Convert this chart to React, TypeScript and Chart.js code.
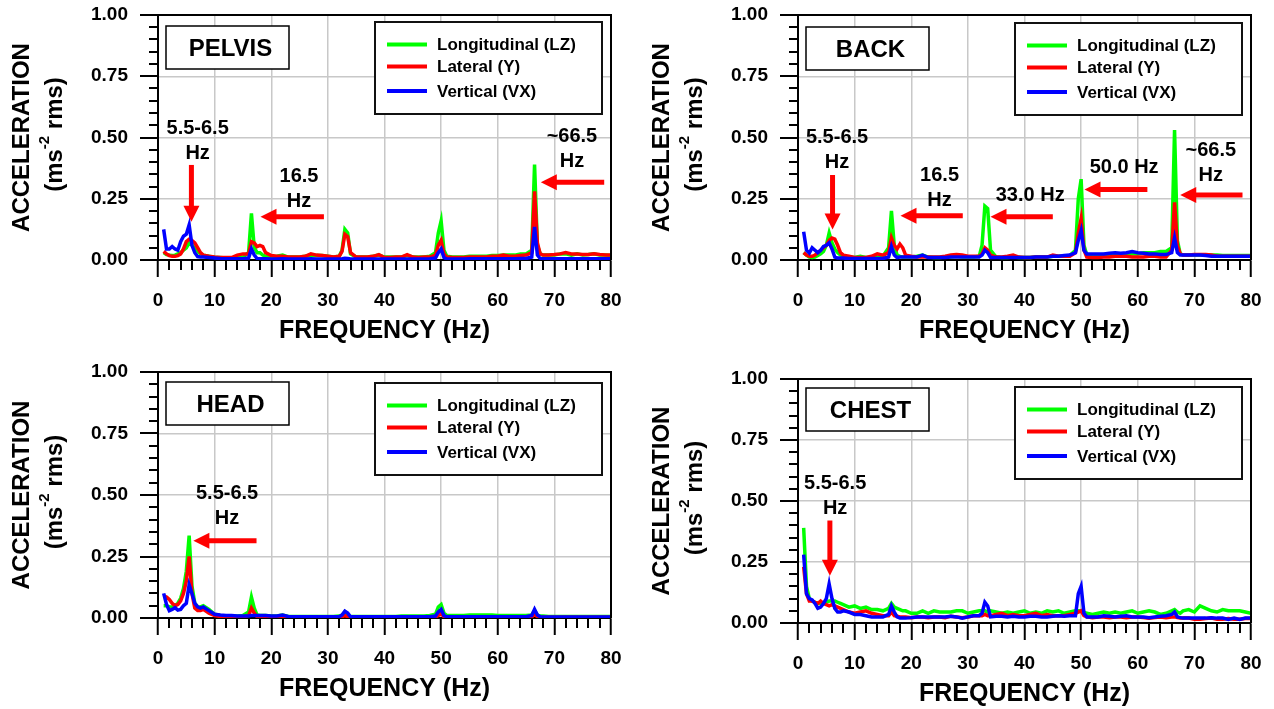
import React, { useEffect, useRef } from 'react';
import { Chart, registerables } from 'chart.js';

Chart.register(...registerables);

// ---------------- DATA ----------------
const FREQ = [
  1, 1.5, 2, 2.5, 3, 3.5, 4, 4.5, 5, 5.5, 6, 6.5, 7, 7.5, 8,
  9, 10, 11, 12, 13, 14, 15,
  16, 16.5, 17, 17.5, 18, 18.5,
  19, 20, 21, 22, 23, 24, 25, 26, 27, 28, 29, 30, 31, 32,
  32.5, 33, 33.5,
  34, 35, 36, 37, 38, 39, 40, 41, 42, 43, 44, 45, 46, 47, 48, 49,
  49.5, 50, 50.5,
  51, 52, 53, 54, 55, 56, 57, 58, 59, 60, 61, 62, 63, 64, 65, 66,
  66.5, 67, 67.5,
  68, 69, 70, 71, 72, 73, 74, 75, 76, 77, 78, 79, 80,
];

const SERIES_LABELS = ['Longitudinal (LZ)', 'Lateral (Y)', 'Vertical (VX)'];
const SERIES_COLORS = ['#00ff00', '#ff0000', '#0000ff'];

const X_MIN = 0;
const X_MAX = 80;
const X_STEP = 10;
const X_MINOR = 2;
const Y_MIN = 0;
const Y_MAX = 1;
const Y_STEP = 0.25;
const Y_MINOR = 0.05;

const X_TITLE = 'FREQUENCY (Hz)';
const Y_TITLE = 'ACCELERATION';
const Y_UNIT = ['(ms', '-2', ' rms)'];

const PELVIS_LZ = [
  .03, .022, .02, .018, .02, .025, .03, .04, .05, .07, .06, .05, .035, .025, .02,
  .015, .01, .01, .008, .008, .01, .012,
  .03, .19, .05, .03, .03, .02,
  .015, .012, .015, .02, .012, .012, .012, .015, .02, .018, .018, .015, .012, .015,
  .04, .125, .11,
  .025, .012, .012, .012, .015, .02, .012, .012, .012, .012, .018, .012, .012, .012, .015, .03,
  .11, .16, .04,
  .015, .012, .012, .012, .015, .015, .015, .015, .018, .018, .02, .02, .02, .025, .025, .04,
  .39, .06, .025,
  .02, .02, .02, .025, .025, .02, .025, .02, .022, .025, .02, .02, .018,
];
const PELVIS_Y = [
  .035, .025, .018, .015, .015, .018, .025, .045, .075, .085, .08, .07, .05, .03, .02,
  .015, .012, .01, .01, .01, .02, .025,
  .025, .075, .07, .055, .06, .055,
  .03, .018, .015, .015, .012, .012, .012, .015, .025, .02, .018, .015, .012, .015,
  .035, .105, .095,
  .03, .012, .012, .012, .015, .022, .01, .01, .012, .012, .022, .012, .01, .012, .012, .02,
  .06, .08, .025,
  .012, .01, .01, .01, .012, .012, .012, .012, .015, .015, .02, .015, .015, .018, .02, .03,
  .28, .07, .025,
  .02, .02, .022, .025, .03, .025, .025, .022, .022, .025, .022, .02, .02,
];
const PELVIS_VX = [
  .125, .045, .045, .055, .045, .04, .075, .097, .105, .143, .06, .03, .014, .012, .012,
  .01, .008, .006, .005, .005, .005, .005,
  .008, .045, .02, .006, .005, .005,
  .005, .004, .004, .005, .004, .004, .004, .004, .005, .004, .004, .004, .004, .004,
  .005, .007, .006,
  .004, .004, .004, .004, .004, .004, .004, .004, .004, .004, .004, .004, .004, .004, .005, .008,
  .03, .045, .01,
  .004, .004, .004, .004, .005, .005, .005, .005, .005, .005, .005, .005, .005, .006, .006, .012,
  .135, .02, .006,
  .005, .005, .005, .005, .005, .005, .005, .005, .005, .005, .005, .005, .005,
];

const BACK_LZ = [
  .03, .02, .012, .01, .012, .018, .025, .035, .06, .11, .07, .045, .03, .02, .015,
  .012, .01, .015, .01, .01, .012, .015,
  .05, .2, .06, .02, .015, .012,
  .012, .012, .015, .02, .012, .01, .01, .012, .012, .015, .012, .012, .012, .015,
  .06, .22, .21,
  .04, .012, .01, .01, .012, .01, .01, .01, .012, .012, .012, .015, .015, .015, .018, .04,
  .25, .33, .06,
  .02, .02, .02, .022, .022, .025, .025, .025, .025, .025, .03, .03, .03, .035, .035, .05,
  .53, .08, .025,
  .02, .02, .02, .02, .02, .02, .02, .018, .018, .018, .018, .018, .018,
];
const BACK_Y = [
  .03, .02, .015, .015, .02, .03, .04, .05, .06, .08, .09, .085, .06, .03, .02,
  .015, .01, .01, .01, .015, .025, .02,
  .03, .09, .06, .045, .065, .05,
  .02, .015, .012, .012, .012, .012, .012, .015, .02, .022, .02, .015, .015, .015,
  .025, .05, .04,
  .02, .012, .012, .015, .02, .012, .01, .01, .012, .012, .012, .02, .015, .015, .015, .03,
  .11, .17, .04,
  .012, .01, .01, .012, .012, .015, .015, .015, .012, .012, .012, .015, .015, .012, .012, .04,
  .235, .06, .025,
  .02, .02, .022, .022, .022, .02, .015, .015, .015, .015, .015, .015, .015,
];
const BACK_VX = [
  .115, .04, .028, .05, .04, .03, .04, .055, .06, .07, .045, .012, .008, .008, .008,
  .006, .006, .006, .006, .006, .006, .006,
  .012, .055, .02, .01, .012, .012,
  .012, .012, .012, .02, .01, .01, .01, .01, .012, .012, .012, .012, .012, .012,
  .02, .04, .03,
  .01, .01, .01, .01, .01, .01, .01, .01, .012, .012, .012, .015, .015, .018, .02, .03,
  .08, .12, .04,
  .025, .025, .025, .025, .028, .03, .028, .03, .035, .03, .028, .025, .025, .022, .022, .03,
  .09, .03, .02,
  .02, .02, .02, .02, .018, .015, .015, .015, .015, .015, .015, .015, .015,
];

const HEAD_LZ = [
  .05, .05, .045, .045, .05, .06, .08, .12, .19, .335, .13, .06, .045, .045, .05,
  .035, .015, .01, .008, .008, .008, .01,
  .025, .085, .04, .012, .01, .01,
  .01, .008, .008, .012, .006, .006, .006, .006, .006, .006, .006, .006, .006, .008,
  .012, .025, .015,
  .006, .006, .006, .006, .006, .006, .006, .006, .006, .008, .008, .008, .008, .008, .01, .015,
  .045, .055, .02,
  .01, .01, .01, .01, .012, .012, .012, .012, .012, .01, .01, .01, .01, .01, .01, .012,
  .03, .012, .008,
  .008, .006, .006, .006, .006, .006, .006, .006, .006, .006, .006, .006, .006,
];
const HEAD_Y = [
  .09, .085, .075, .06, .05, .055, .07, .1, .15, .25, .1, .04, .03, .03, .035,
  .02, .01, .006, .005, .005, .004, .004,
  .01, .04, .02, .005, .004, .004,
  .003, .003, .003, .005, .003, .003, .003, .003, .003, .003, .003, .003, .003, .003,
  .004, .01, .005,
  .003, .003, .003, .003, .003, .003, .003, .003, .003, .003, .003, .003, .003, .003, .003, .004,
  .01, .018, .005,
  .003, .003, .003, .003, .003, .003, .003, .003, .003, .003, .003, .003, .003, .003, .003, .004,
  .015, .005, .003,
  .003, .003, .003, .003, .003, .003, .003, .003, .003, .003, .003, .003, .003,
];
const HEAD_VX = [
  .1, .055, .03, .035, .042, .032, .035, .05, .06, .135, .1, .06, .045, .04, .045,
  .03, .015, .012, .01, .01, .008, .008,
  .008, .01, .01, .01, .01, .01,
  .01, .008, .008, .012, .006, .005, .005, .005, .005, .005, .005, .005, .005, .005,
  .012, .028, .02,
  .005, .005, .005, .005, .005, .005, .005, .005, .005, .005, .005, .005, .005, .005, .005, .008,
  .025, .035, .01,
  .005, .005, .005, .005, .005, .005, .005, .005, .005, .005, .005, .005, .005, .005, .005, .01,
  .035, .012, .005,
  .004, .004, .004, .004, .004, .004, .004, .004, .004, .004, .004, .004, .004,
];

const CHEST_LZ = [
  .39, .15, .1, .09, .085, .08, .08, .08, .085, .09, .09, .09, .085, .08, .075,
  .065, .07, .06, .065, .055, .055, .05,
  .06, .08, .065, .06, .055, .05,
  .05, .04, .04, .05, .04, .05, .045, .045, .045, .05, .05, .04, .045, .05,
  .05, .05, .045,
  .05, .045, .04, .045, .04, .045, .05, .04, .045, .04, .05, .045, .05, .04, .045, .05,
  .05, .05, .045,
  .04, .035, .04, .045, .04, .045, .04, .045, .05, .04, .045, .05, .045, .035, .04, .05,
  .055, .045, .04,
  .05, .055, .045, .07, .06, .05, .045, .055, .05, .05, .05, .045, .04,
];
const CHEST_Y = [
  .23, .12, .09, .09, .085, .08, .09, .08, .075, .07, .075, .07, .065, .06, .055,
  .045, .04, .045, .05, .04, .035, .03,
  .03, .045, .03, .028, .025, .025,
  .025, .022, .025, .025, .022, .025, .025, .022, .028, .025, .022, .025, .03, .03,
  .03, .035, .03,
  .03, .035, .04, .03, .035, .03, .03, .035, .04, .03, .035, .03, .03, .03, .035, .04,
  .045, .05, .03,
  .025, .022, .025, .025, .022, .025, .025, .022, .025, .025, .022, .02, .022, .025, .022, .025,
  .025, .022, .02,
  .02, .02, .015, .015, .018, .02, .015, .015, .018, .015, .015, .018, .018,
];
const CHEST_VX = [
  .28, .12, .1, .095, .08, .06, .065, .08, .1, .16, .1, .06, .045, .045, .05,
  .045, .035, .035, .03, .025, .025, .025,
  .035, .07, .045, .025, .02, .02,
  .02, .022, .025, .025, .025, .025, .025, .025, .028, .025, .02, .025, .03, .03,
  .04, .085, .07,
  .025, .028, .028, .025, .028, .025, .025, .028, .028, .025, .025, .028, .03, .028, .03, .03,
  .12, .15, .04,
  .025, .025, .025, .03, .028, .025, .028, .03, .025, .025, .025, .022, .025, .028, .03, .035,
  .045, .025, .022,
  .02, .02, .02, .02, .02, .022, .02, .02, .015, .02, .015, .02, .02,
];

// annotations in data units (Hz, acceleration)
const PELVIS_NOTES = [
  { lines: ['5.5-6.5', 'Hz'], x: 7.0, y: 0.538 },
  { lines: ['16.5', 'Hz'], x: 24.9, y: 0.34 },
  { lines: ['~66.5', 'Hz'], x: 73.1, y: 0.503 },
];
const PELVIS_ARROWS = [
  { x1: 5.9, y1: 0.388, x2: 5.9, y2: 0.156 },
  { x1: 29.3, y1: 0.177, x2: 18.1, y2: 0.177 },
  { x1: 78.8, y1: 0.317, x2: 67.6, y2: 0.317 },
];
const BACK_NOTES = [
  { lines: ['5.5-6.5', 'Hz'], x: 6.9, y: 0.5 },
  { lines: ['16.5', 'Hz'], x: 25.0, y: 0.347 },
  { lines: ['33.0 Hz'], x: 41.0, y: 0.265 },
  { lines: ['50.0 Hz'], x: 57.6, y: 0.377 },
  { lines: ['~66.5', 'Hz'], x: 72.9, y: 0.449 },
];
const BACK_ARROWS = [
  { x1: 6.1, y1: 0.347, x2: 6.1, y2: 0.125 },
  { x1: 29.1, y1: 0.181, x2: 18.1, y2: 0.181 },
  { x1: 45.0, y1: 0.177, x2: 34.0, y2: 0.177 },
  { x1: 61.7, y1: 0.288, x2: 50.6, y2: 0.288 },
  { x1: 78.5, y1: 0.265, x2: 67.5, y2: 0.265 },
];
const HEAD_NOTES = [{ lines: ['5.5-6.5', 'Hz'], x: 12.2, y: 0.507 }];
const HEAD_ARROWS = [{ x1: 17.4, y1: 0.314, x2: 6.25, y2: 0.314 }];
const CHEST_NOTES = [{ lines: ['5.5-6.5', 'Hz'], x: 6.56, y: 0.573 }];
const CHEST_ARROWS = [{ x1: 5.63, y1: 0.42, x2: 5.63, y2: 0.194 }];

// ---------------- LAYOUT ----------------
const FONT = 'Arial, "Liberation Sans", Helvetica, sans-serif';
const ARROW_COLOR = '#ff0000';
const GRID_COLOR = '#c8c8c8';

const PANELS = [
  {
    title: 'PELVIS', series: [PELVIS_LZ, PELVIS_Y, PELVIS_VX], notes: PELVIS_NOTES, arrows: PELVIS_ARROWS,
    canvas: { left: 0, top: 0, width: 640, height: 355 },
    area: { left: 158, top: 15, right: 611, bottom: 260 },
    titleDy: 11, legendDy: 7,
  },
  {
    title: 'BACK', series: [BACK_LZ, BACK_Y, BACK_VX], notes: BACK_NOTES, arrows: BACK_ARROWS,
    canvas: { left: 640, top: 0, width: 634, height: 355 },
    area: { left: 798, top: 15, right: 1251, bottom: 260 },
    titleDy: 12, legendDy: 8,
  },
  {
    title: 'HEAD', series: [HEAD_LZ, HEAD_Y, HEAD_VX], notes: HEAD_NOTES, arrows: HEAD_ARROWS,
    canvas: { left: 0, top: 355, width: 640, height: 354 },
    area: { left: 158, top: 372, right: 611, bottom: 618 },
    titleDy: 10, legendDy: 11,
  },
  {
    title: 'CHEST', series: [CHEST_LZ, CHEST_Y, CHEST_VX], notes: CHEST_NOTES, arrows: CHEST_ARROWS,
    canvas: { left: 640, top: 355, width: 634, height: 354 },
    area: { left: 798, top: 379, right: 1251, bottom: 623 },
    titleDy: 9, legendDy: 8,
  },
];

function drawArrow(ctx: CanvasRenderingContext2D, x1: number, y1: number, x2: number, y2: number) {
  const dx = x2 - x1;
  const dy = y2 - y1;
  const len = Math.hypot(dx, dy);
  const ux = dx / len;
  const uy = dy / len;
  const hl = 16;
  const hw = 8;
  const bx = x2 - ux * hl;
  const by = y2 - uy * hl;
  ctx.strokeStyle = ARROW_COLOR;
  ctx.lineWidth = 5;
  ctx.lineCap = 'butt';
  ctx.beginPath();
  ctx.moveTo(x1, y1);
  ctx.lineTo(bx + ux, by + uy);
  ctx.stroke();
  ctx.fillStyle = ARROW_COLOR;
  ctx.beginPath();
  ctx.moveTo(x2, y2);
  ctx.lineTo(bx - uy * hw, by + ux * hw);
  ctx.lineTo(bx + uy * hw, by - ux * hw);
  ctx.closePath();
  ctx.fill();
}

function makeDecor(p: any) {
  return {
    id: 'decor' + p.title,
    afterDatasetsDraw(chart: any) {
      const ctx: CanvasRenderingContext2D = chart.ctx;
      const xs = chart.scales.x;
      const ys = chart.scales.y;
      const a = chart.chartArea;
      ctx.save();

      // frame top + right
      ctx.strokeStyle = '#000';
      ctx.lineWidth = 2;
      ctx.beginPath();
      ctx.moveTo(a.left, a.top);
      ctx.lineTo(a.right, a.top);
      ctx.lineTo(a.right, a.bottom);
      ctx.stroke();

      // tick marks (major on y drawn here, minor on both)
      ctx.lineWidth = 2;
      ctx.beginPath();
      for (let v = X_MIN; v <= X_MAX + 1e-9; v += X_MINOR) {
        if (Math.abs(v / X_STEP - Math.round(v / X_STEP)) < 1e-6) continue;
        const px = Math.round(xs.getPixelForValue(v));
        ctx.moveTo(px, a.bottom);
        ctx.lineTo(px, a.bottom + 10);
      }
      for (let v = Y_MIN; v <= Y_MAX + 1e-9; v += Y_MINOR) {
        const major = Math.abs(v / Y_STEP - Math.round(v / Y_STEP)) < 1e-6;
        const py = Math.round(ys.getPixelForValue(v));
        ctx.moveTo(a.left - (major ? 18 : 9), py);
        ctx.lineTo(a.left, py);
      }
      ctx.stroke();

      // title box
      const tbx = a.left + 8;
      const tby = a.top + p.titleDy;
      ctx.fillStyle = '#fff';
      ctx.fillRect(tbx, tby, 123, 43);
      ctx.strokeStyle = '#000';
      ctx.lineWidth = 1.5;
      ctx.strokeRect(tbx, tby, 123, 43);
      ctx.fillStyle = '#000';
      ctx.font = `bold 24px ${FONT}`;
      ctx.textAlign = 'center';
      ctx.textBaseline = 'alphabetic';
      ctx.fillText(p.title, tbx + 61.5 + 3, tby + 21.5 + 8.5);

      // legend box
      const lbx = a.right - 236;
      const lby = a.top + p.legendDy;
      ctx.fillStyle = '#fff';
      ctx.fillRect(lbx, lby, 227, 92);
      ctx.strokeStyle = '#111';
      ctx.lineWidth = 2;
      ctx.strokeRect(lbx, lby, 227, 92);
      const rows = [22.5, 44.5, 69];
      ctx.font = `bold 17px ${FONT}`;
      ctx.textAlign = 'left';
      ctx.textBaseline = 'middle';
      chart.data.datasets.forEach((ds: any, i: number) => {
        const ry = lby + rows[i];
        ctx.strokeStyle = ds.borderColor;
        ctx.lineWidth = 4;
        ctx.beginPath();
        ctx.moveTo(lbx + 12, ry);
        ctx.lineTo(lbx + 52, ry);
        ctx.stroke();
        ctx.fillStyle = '#000';
        ctx.fillText(ds.label, lbx + 62, ry + 1);
      });

      // arrows
      p.arrows.forEach((ar: any) => {
        drawArrow(ctx, xs.getPixelForValue(ar.x1), ys.getPixelForValue(ar.y1), xs.getPixelForValue(ar.x2), ys.getPixelForValue(ar.y2));
      });

      // notes
      ctx.fillStyle = '#000';
      ctx.font = `bold 20px ${FONT}`;
      ctx.textAlign = 'center';
      ctx.textBaseline = 'middle';
      p.notes.forEach((n: any) => {
        const nx = xs.getPixelForValue(n.x);
        const ny = ys.getPixelForValue(n.y);
        n.lines.forEach((line: string, k: number) => {
          ctx.fillText(line, nx, ny + k * 25);
        });
      });

      // y-axis title (two lines, rotated)
      const midY = (a.top + a.bottom) / 2;
      ctx.save();
      ctx.translate(a.left - 136, midY);
      ctx.rotate(-Math.PI / 2);
      ctx.font = `bold 24px ${FONT}`;
      ctx.textAlign = 'center';
      ctx.textBaseline = 'middle';
      ctx.fillText(Y_TITLE, 0, 0);
      ctx.restore();

      ctx.save();
      ctx.translate(a.left - 103, midY - 3);
      ctx.rotate(-Math.PI / 2);
      ctx.textBaseline = 'middle';
      ctx.textAlign = 'left';
      ctx.font = `bold 24px ${FONT}`;
      const w1 = ctx.measureText(Y_UNIT[0]).width;
      const w3 = ctx.measureText(Y_UNIT[2]).width;
      ctx.font = `bold 15px ${FONT}`;
      const w2 = ctx.measureText(Y_UNIT[1]).width;
      let cx = -(w1 + w2 + w3) / 2;
      ctx.font = `bold 24px ${FONT}`;
      ctx.fillText(Y_UNIT[0], cx, 0);
      cx += w1;
      ctx.font = `bold 15px ${FONT}`;
      ctx.fillText(Y_UNIT[1], cx, -10);
      cx += w2;
      ctx.font = `bold 24px ${FONT}`;
      ctx.fillText(Y_UNIT[2], cx, 0);
      ctx.restore();

      ctx.restore();
    },
  };
}

function Panel({ p }: { p: any }) {
  const ref = useRef<HTMLCanvasElement>(null);
  useEffect(() => {
    const c = p.canvas;
    const a = p.area;
    const yWidth = a.left - c.left;
    const xHeight = c.height - (a.bottom - c.top);
    const order = [3, 2, 1];
    const chart = new Chart(ref.current as HTMLCanvasElement, {
      type: 'line',
      data: {
        datasets: p.series.map((arr: number[], i: number) => ({
          label: SERIES_LABELS[i],
          data: FREQ.map((f, k) => ({ x: f, y: arr[k] })),
          borderColor: SERIES_COLORS[i],
          backgroundColor: SERIES_COLORS[i],
          borderWidth: 3.5,
          pointRadius: 0,
          fill: false,
          tension: 0,
          order: order[i],
        })),
      },
      options: {
        responsive: false,
        maintainAspectRatio: false,
        devicePixelRatio: 1,
        animation: false,
        events: [],
        layout: {
          padding: { left: 0, top: a.top - c.top, right: c.width - (a.right - c.left), bottom: 0 },
        },
        plugins: { legend: { display: false }, tooltip: { enabled: false } },
        scales: {
          x: {
            type: 'linear',
            min: X_MIN,
            max: X_MAX,
            afterFit: (s: any) => { s.height = xHeight; },
            ticks: {
              stepSize: X_STEP,
              padding: 12,
              maxRotation: 0,
              autoSkip: false,
              color: '#000',
              font: { family: FONT, size: 19, weight: 'bold' },
            },
            grid: { color: GRID_COLOR, lineWidth: 1.5, tickColor: '#000', tickWidth: 2, tickLength: 17 },
            border: { display: true, color: '#000', width: 2 },
            title: {
              display: true,
              text: X_TITLE,
              color: '#000',
              font: { family: FONT, size: 25, weight: 'bold' },
              padding: { top: 0, bottom: Math.max(0, xHeight - 71 - 15) },
            },
          },
          y: {
            type: 'linear',
            min: Y_MIN,
            max: Y_MAX,
            afterFit: (s: any) => { s.width = yWidth; },
            ticks: {
              stepSize: Y_STEP,
              padding: 0,
              color: '#000',
              font: { family: FONT, size: 19, weight: 'bold' },
              callback: (v: any) => Number(v).toFixed(2),
            },
            grid: { color: GRID_COLOR, lineWidth: 1.5, tickColor: 'rgba(0,0,0,0)', tickWidth: 2, tickLength: 30 },
            border: { display: true, color: '#000', width: 2 },
          },
        },
      } as any,
      plugins: [makeDecor(p)],
    });
    return () => chart.destroy();
  }, [p]);
  const c = p.canvas;
  return (
    <canvas
      ref={ref}
      width={c.width}
      height={c.height}
      style={{ position: 'absolute', left: c.left, top: c.top, width: c.width, height: c.height }}
    />
  );
}

export default function App() {
  useEffect(() => {
    document.body.style.margin = '0';
  }, []);
  return (
    <div style={{ position: 'fixed', left: 0, top: 0, width: 1274, height: 709, background: '#fff', overflow: 'hidden' }}>
      {PANELS.map((p) => (
        <Panel key={p.title} p={p} />
      ))}
    </div>
  );
}
